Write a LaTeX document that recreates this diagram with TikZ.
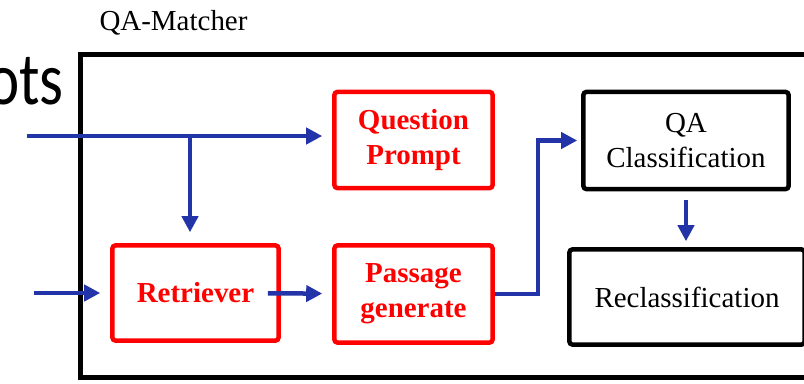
\documentclass[tikz,border=0pt]{standalone}
\usepackage{fontspec}
\setmainfont{Liberation Serif}
\newfontfamily\otsfont{Carlito}
\usepackage{tikz}
\usetikzlibrary{arrows.meta,positioning}

\definecolor{flowblue}{RGB}{35,52,168}
\definecolor{boxred}{RGB}{255,0,0}

\begin{document}
\begin{tikzpicture}[
        x=0.025cm, y=-0.025cm,
        every node/.style={font=\fontsize{20.6}{25}\selectfont},
        redbox/.style={draw=boxred, line width=3.2pt, rounded corners=2pt, text=boxred, font=\fontsize{20.6}{25}\selectfont\bfseries, align=center},
        blackbox/.style={draw=black, line width=3.2pt, rounded corners=2pt, align=center},
        arrow/.style={-{Triangle[length=0.4cm, width=0.4cm]}, draw=flowblue, line width=3.2pt}
    ]
        \useasboundingbox (0,0) rectangle (804,383);

        % outer frame
        \draw[line width=3.56pt] (80.5,54.5) rectangle (840,377.5);
        \node[anchor=base] (matcherlabel) at (173.5,30) {QA-Matcher};
        \node[anchor=base east, inner sep=0pt, xscale=0.82, transform shape, font=\otsfont\fontsize{53}{55}\selectfont] (ots) at (64,104) {ots};

        \node[redbox, minimum width=3.95cm, minimum height=2.4cm] (prompt) at (413.5,140) {Question\\Prompt};
        \node[redbox, minimum width=4.15cm, minimum height=2.375cm] (ret) at (195.5,293) {Retriever};
        \node[redbox, minimum width=3.95cm, minimum height=2.425cm] (passage) at (413.5,294) {Passage\\generate};
        \node[blackbox, minimum width=5.125cm, minimum height=2.425cm] (qacls) at (686,140.5) {QA\\Classification};
        \node[blackbox, minimum width=5.875cm, minimum height=2.375cm] (recls) at (687,297) {Reclassification};

        \coordinate (intop) at (27,136);
        \coordinate (inbot) at (34,293);
        \coordinate (split) at (190,136);

        \draw[arrow, shorten >=0.25cm] (intop) -- (intop -| prompt.west);
        \draw[arrow, shorten >=0.275cm] (split) -- (split |- ret.north);
        \draw[arrow, shorten >=0.25cm] (inbot) -- (ret.west);
        \draw[arrow, shorten <=-0.325cm, shorten >=0.25cm] (ret) -- (passage);
        \draw[arrow, shorten >=0.1cm] (passage.east) -- ++(43,0) |- (qacls.west);
        \draw[arrow, shorten <=0.225cm, shorten >=0.15cm] (qacls.south) -- (qacls.south |- recls.north);
    \end{tikzpicture}
\end{document}
